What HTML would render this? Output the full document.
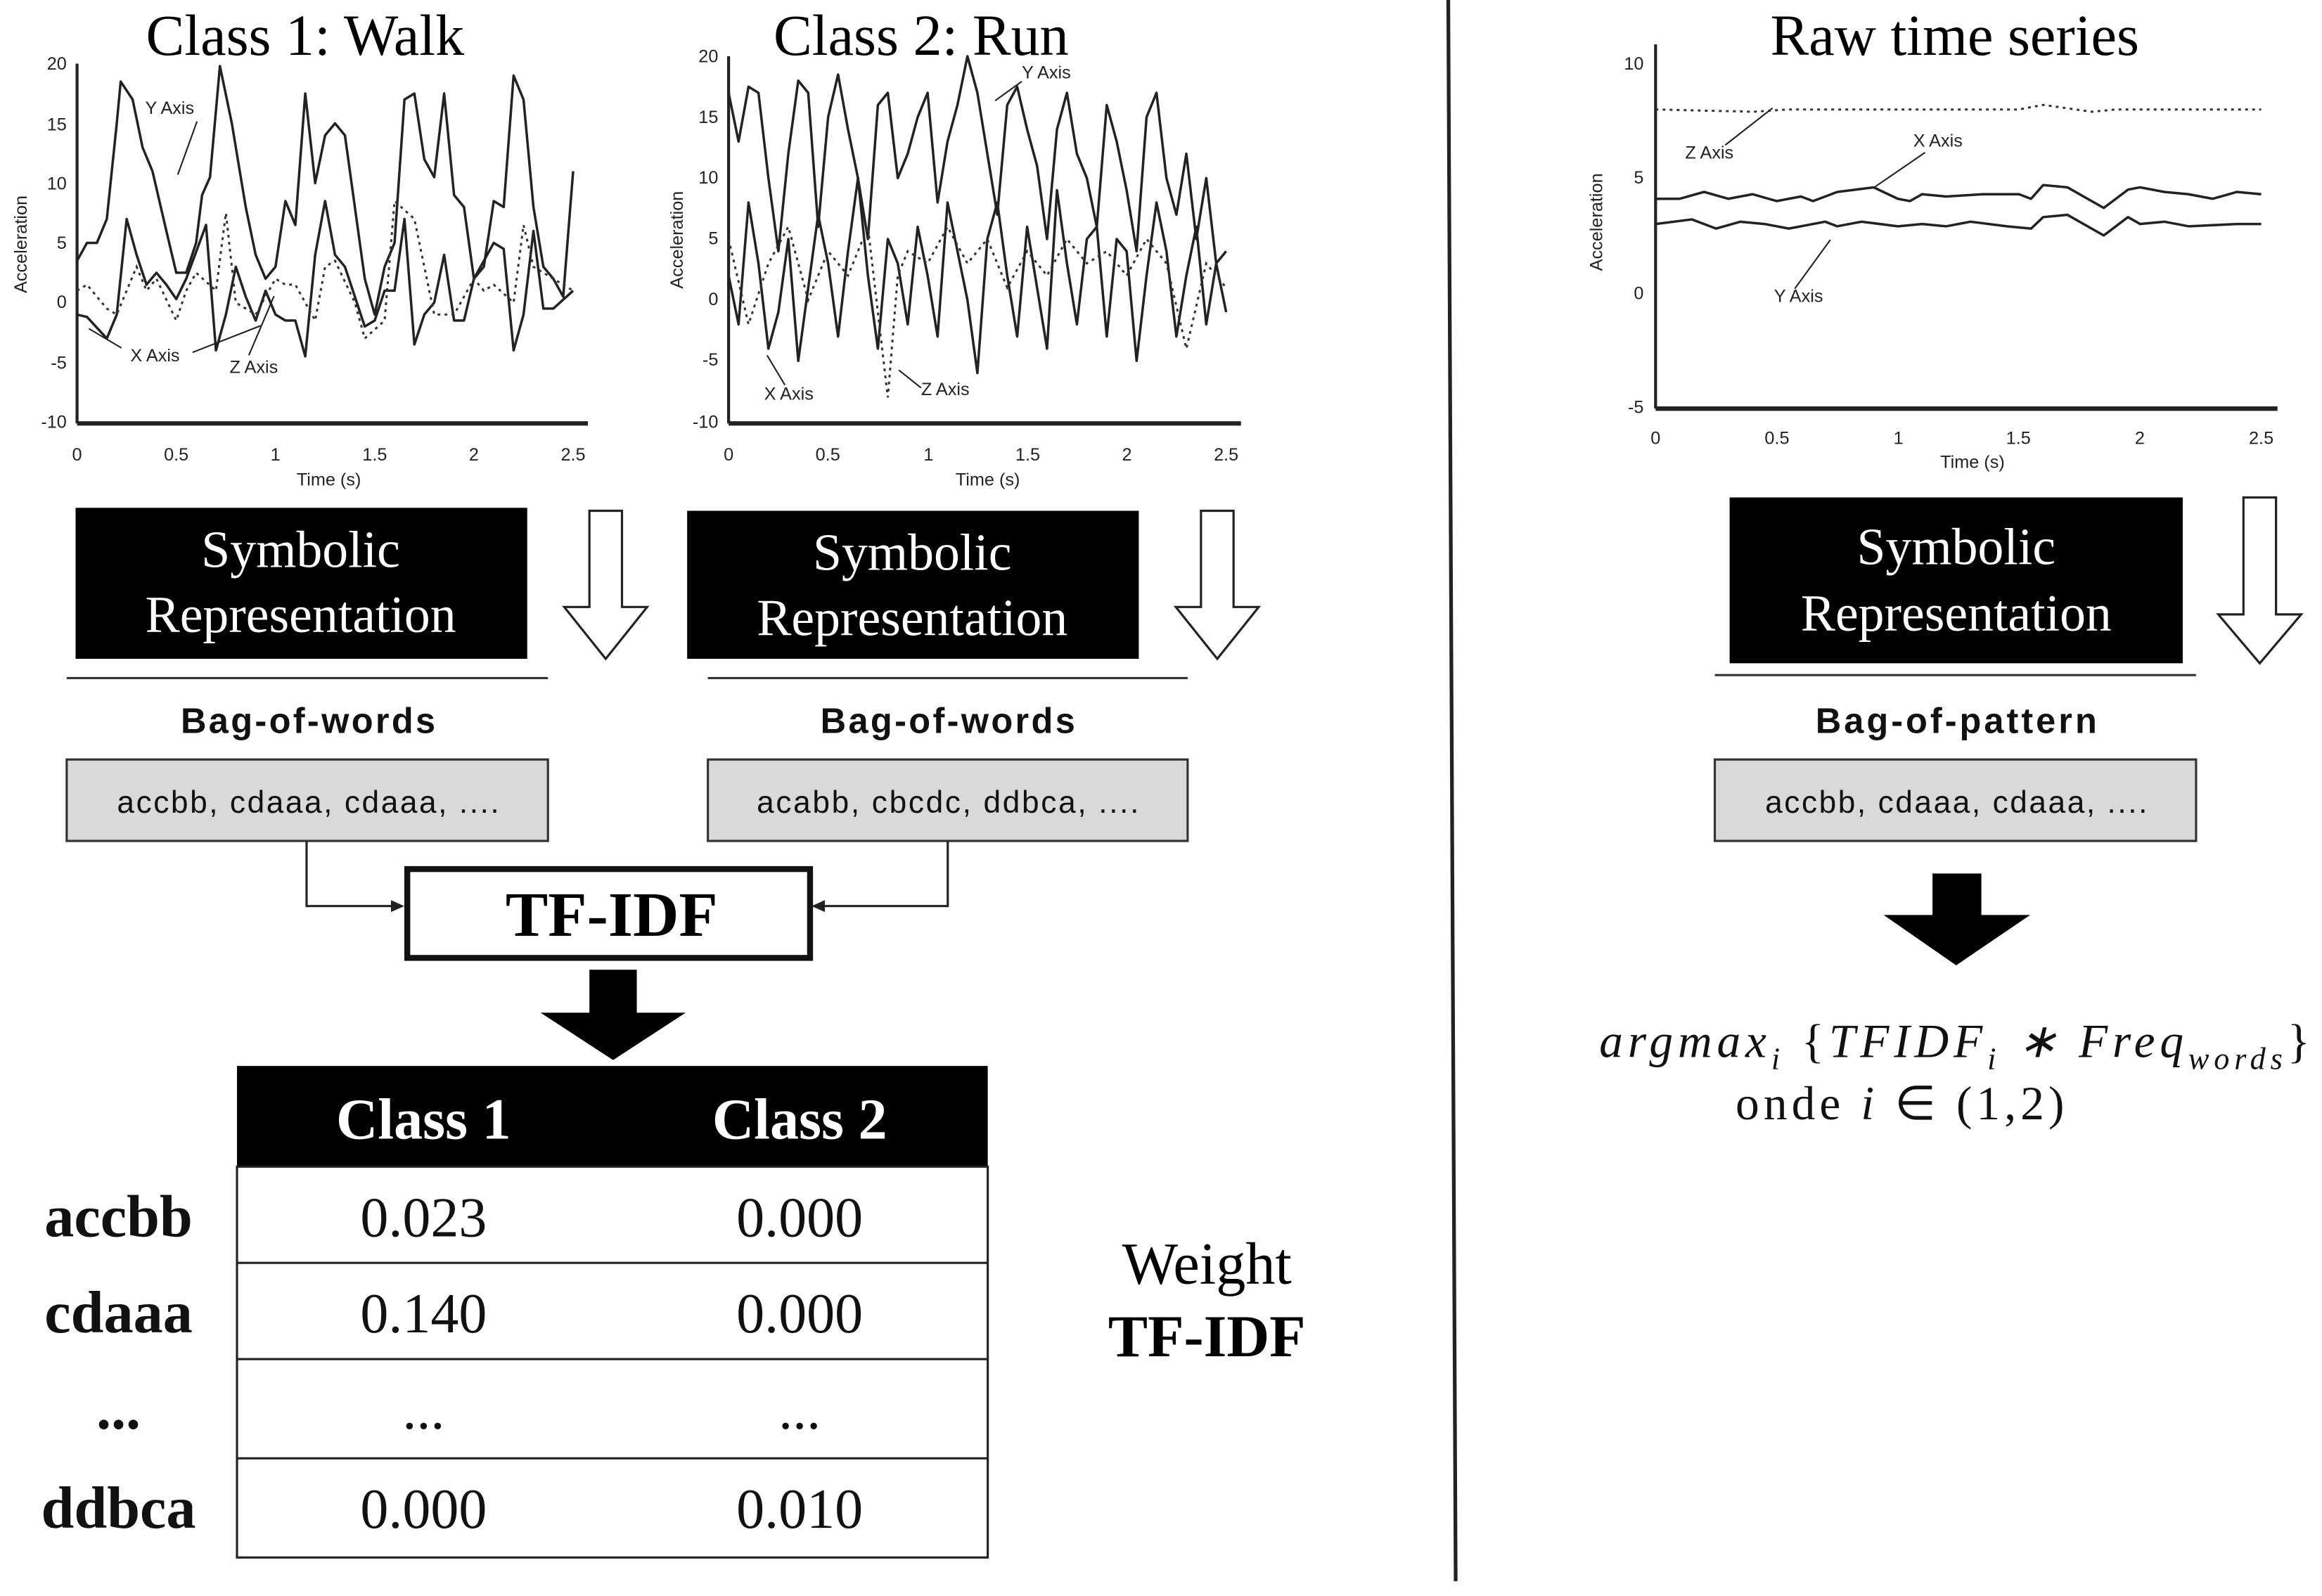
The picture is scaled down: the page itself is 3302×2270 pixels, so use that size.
<!DOCTYPE html>
<html><head><meta charset="utf-8"><style>
html,body{margin:0;padding:0;background:#fff;}
svg{display:block;}
.ser{font-family:"Liberation Serif",serif;}
.san{font-family:"Liberation Sans",sans-serif;}
.ln{fill:none;stroke:#222;stroke-width:3.5;vector-effect:non-scaling-stroke;stroke-linejoin:round;}
.dt{fill:none;stroke:#333;stroke-width:3;stroke-dasharray:4 6;vector-effect:non-scaling-stroke;}
.tk{font-family:"Liberation Sans",sans-serif;font-size:12px;fill:#222;}
</style></head><body>
<svg width="3302" height="2270" viewBox="0 0 1568 1078" xmlns="http://www.w3.org/2000/svg">
<rect width="1568" height="1078" fill="#fff"/>
<!-- titles -->
<text x="206" y="37" text-anchor="middle" class="ser" font-size="39">Class 1: Walk</text>
<text x="622" y="37" text-anchor="middle" class="ser" font-size="39">Class 2: Run</text>
<text x="1320" y="37" text-anchor="middle" class="ser" font-size="39">Raw time series</text>

<!-- chart 1 -->
<g>
<line x1="52" y1="43" x2="52" y2="286" stroke="#222" stroke-width="2"/>
<line x1="52" y1="286" x2="397" y2="286" stroke="#222" stroke-width="3"/>
<g class="tk" text-anchor="end">
<text x="45" y="47">20</text><text x="45" y="88">15</text><text x="45" y="128">10</text><text x="45" y="168">5</text><text x="45" y="208">0</text><text x="45" y="249">-5</text><text x="45" y="289">-10</text></g>
<g class="tk" text-anchor="middle">
<text x="52" y="311">0</text><text x="119" y="311">0.5</text><text x="186" y="311">1</text><text x="253" y="311">1.5</text><text x="320" y="311">2</text><text x="387" y="311">2.5</text>
<text x="222" y="328">Time (s)</text></g>
<text class="tk" transform="translate(18,165) rotate(-90)" text-anchor="middle">Acceleration</text>
<g transform="translate(52,204.4) scale(134,-8.07)">
<polyline class="ln" points="0,3.5 0.05,5 0.1,5 0.15,7 0.2,15 0.22,18.5 0.28,17 0.33,13 0.38,11 0.45,6 0.5,2.5 0.55,2.5 0.6,5 0.63,9 0.67,10.5 0.72,19.8 0.78,15 0.85,8 0.9,4 0.95,2 1.0,3 1.05,8.5 1.1,6.5 1.15,17.5 1.2,10 1.25,14 1.3,15 1.35,14 1.4,8 1.45,2 1.5,-1 1.55,3 1.6,5 1.65,17 1.7,17.5 1.75,12 1.8,10.5 1.85,17.5 1.9,9 1.95,8 2.0,2 2.05,3 2.1,8.5 2.15,8 2.2,19 2.25,17 2.3,8 2.35,3 2.4,2 2.45,0.5 2.5,11"/>
<polyline class="ln" points="0,-1 0.05,-1.2 0.15,-3 0.2,-1 0.25,7 0.3,4 0.35,1.5 0.4,2.5 0.45,1.5 0.5,0.3 0.55,2 0.65,6.5 0.7,-4 0.75,-1 0.8,3 0.85,0.5 0.9,-1.5 0.95,1 1.0,-1 1.05,-1.5 1.1,-1.5 1.15,-4.5 1.2,4 1.25,8.5 1.3,4 1.35,3 1.45,-2 1.5,-1.5 1.55,1 1.6,1 1.65,7 1.7,-3.5 1.75,-1 1.8,0 1.85,4 1.9,-1.5 1.95,-1.5 2.0,2 2.1,5 2.15,4.5 2.2,-4 2.25,-1 2.3,6 2.35,-0.5 2.4,-0.5 2.5,1"/>
<polyline class="dt" points="0,1 0.05,1.5 0.15,-0.5 0.2,-1 0.3,3 0.35,1 0.4,2 0.5,-1.5 0.55,1 0.6,2.5 0.7,1 0.75,7.5 0.8,0 0.9,-1 1.0,2 1.05,1.5 1.1,1.5 1.2,-1.5 1.25,3 1.3,3.5 1.4,0 1.45,-3 1.55,-1.5 1.6,8.5 1.7,7 1.8,-1 1.9,-1 2.0,2 2.05,1 2.1,1.5 2.2,0 2.25,6.5 2.3,3 2.4,2 2.5,1"/>
</g>
<text class="tk" x="98" y="77">Y Axis</text><line x1="133" y1="82" x2="120" y2="118" stroke="#222"/>
<text class="tk" x="88" y="244">X Axis</text><line x1="82" y1="235" x2="60" y2="222" stroke="#222"/><line x1="130" y1="238" x2="176" y2="220" stroke="#222"/>
<text class="tk" x="155" y="252">Z Axis</text><line x1="168" y1="240" x2="185" y2="200" stroke="#222"/>
</g>

<!-- chart 2 -->
<g>
<line x1="492" y1="38" x2="492" y2="286" stroke="#222" stroke-width="2"/>
<line x1="492" y1="286" x2="838" y2="286" stroke="#222" stroke-width="3"/>
<g class="tk" text-anchor="end">
<text x="485" y="42">20</text><text x="485" y="83">15</text><text x="485" y="124">10</text><text x="485" y="165">5</text><text x="485" y="206">0</text><text x="485" y="247">-5</text><text x="485" y="289">-10</text></g>
<g class="tk" text-anchor="middle">
<text x="492" y="311">0</text><text x="559" y="311">0.5</text><text x="627" y="311">1</text><text x="694" y="311">1.5</text><text x="761" y="311">2</text><text x="828" y="311">2.5</text>
<text x="667" y="328">Time (s)</text></g>
<text class="tk" transform="translate(461,162) rotate(-90)" text-anchor="middle">Acceleration</text>
<g transform="translate(492,202.6) scale(134.4,-8.23)">
<polyline class="ln" points="0,17 0.05,13 0.1,17.5 0.15,17 0.2,10 0.25,4 0.3,12 0.35,18 0.4,17 0.45,6 0.5,15 0.55,18.5 0.6,14 0.65,10 0.7,5 0.75,16 0.8,17 0.85,10 0.9,12 0.95,15 1.0,17 1.05,8 1.1,13 1.15,16 1.2,20 1.25,17 1.3,12 1.35,7 1.4,16 1.45,17.5 1.5,14 1.55,11 1.6,5 1.65,14 1.7,17 1.75,12 1.8,10 1.85,6 1.9,16 1.95,13 2.0,9 2.05,4 2.1,15 2.15,17 2.2,10 2.25,7 2.3,12 2.35,5 2.4,10 2.45,3 2.5,4"/>
<polyline class="ln" points="0,2 0.05,-2 0.1,8 0.15,3 0.2,-4 0.25,-1 0.3,5 0.35,-5 0.4,1 0.45,7 0.5,3 0.55,-3 0.6,4 0.65,10 0.7,2 0.75,-4 0.8,5 0.85,3 0.9,-2 0.95,6 1.0,2 1.05,-3 1.1,8 1.15,4 1.2,0 1.25,-6 1.3,5 1.35,8 1.4,2 1.45,-3 1.5,6 1.55,1 1.6,-4 1.65,9 1.7,3 1.75,-2 1.8,5 1.85,6 1.9,-3 1.95,5 2.0,4 2.05,-5 2.1,2 2.15,8 2.2,4 2.25,-3 2.3,2 2.35,6 2.4,-2 2.45,3 2.5,-1"/>
<polyline class="dt" points="0,5 0.1,-2 0.2,3 0.3,6 0.4,0 0.5,4 0.6,2 0.7,6 0.8,-8 0.85,2 0.9,4 1.0,3 1.1,6 1.2,3 1.3,5 1.4,1 1.5,4 1.6,2 1.7,5 1.8,3 1.9,4 2.0,2 2.1,5 2.2,3 2.3,-4 2.4,3 2.5,1"/>
</g>
<text class="tk" x="690" y="53">Y Axis</text><line x1="690" y1="55" x2="672" y2="68" stroke="#222"/>
<text class="tk" x="516" y="270">X Axis</text><line x1="530" y1="260" x2="518" y2="240" stroke="#222"/>
<text class="tk" x="622" y="267">Z Axis</text><line x1="622" y1="262" x2="607" y2="250" stroke="#222"/>
</g>

<!-- chart 3 -->
<g>
<line x1="1118" y1="30" x2="1118" y2="276" stroke="#222" stroke-width="2"/>
<line x1="1118" y1="276" x2="1538" y2="276" stroke="#222" stroke-width="3"/>
<g class="tk" text-anchor="end">
<text x="1110" y="47">10</text><text x="1110" y="124">5</text><text x="1110" y="202">0</text><text x="1110" y="279">-5</text></g>
<g class="tk" text-anchor="middle">
<text x="1118" y="300">0</text><text x="1200" y="300">0.5</text><text x="1282" y="300">1</text><text x="1363" y="300">1.5</text><text x="1445" y="300">2</text><text x="1527" y="300">2.5</text>
<text x="1332" y="316">Time (s)</text></g>
<text class="tk" transform="translate(1082,150) rotate(-90)" text-anchor="middle">Acceleration</text>
<g transform="translate(1118,197.7) scale(163.6,-15.47)">
<polyline class="dt" points="0,8 0.4,7.9 0.55,8 1.5,8 1.6,8.2 1.8,7.9 1.9,8 2.5,8"/>
<polyline class="ln" points="0,4.1 0.1,4.1 0.2,4.4 0.3,4.1 0.4,4.3 0.5,4 0.6,4.2 0.65,4 0.75,4.4 0.9,4.6 1.0,4.1 1.05,4 1.1,4.3 1.2,4.2 1.35,4.3 1.5,4.3 1.55,4.1 1.6,4.7 1.7,4.6 1.8,4 1.85,3.7 1.95,4.5 2.0,4.6 2.1,4.4 2.2,4.3 2.3,4.1 2.4,4.4 2.5,4.3"/>
<polyline class="ln" points="0,3 0.15,3.2 0.25,2.8 0.35,3.1 0.45,3 0.55,2.8 0.7,3.1 0.75,2.9 0.85,3.1 1.0,2.9 1.1,3 1.2,2.9 1.3,3.1 1.45,2.9 1.55,2.8 1.6,3.3 1.7,3.4 1.8,2.8 1.85,2.5 1.95,3.3 2.0,3 2.1,3.1 2.2,2.9 2.4,3 2.5,3"/>
</g>
<text class="tk" x="1138" y="107">Z Axis</text><line x1="1165" y1="98" x2="1197" y2="73" stroke="#222"/>
<text class="tk" x="1292" y="99">X Axis</text><line x1="1300" y1="103" x2="1265" y2="127" stroke="#222"/>
<text class="tk" x="1198" y="204">Y Axis</text><line x1="1212" y1="195" x2="1236" y2="162" stroke="#222"/>
</g>

<!-- divider -->
<line x1="978" y1="0" x2="983" y2="1068" stroke="#222" stroke-width="2.5"/>

<!-- symbolic boxes -->
<g class="ser" font-size="35" fill="#fff" text-anchor="middle">
<rect x="51" y="343" width="305" height="102" fill="#000"/>
<text x="203" y="383">Symbolic</text><text x="203" y="427">Representation</text>
<rect x="464" y="345" width="305" height="100" fill="#000"/>
<text x="616" y="385">Symbolic</text><text x="616" y="429">Representation</text>
<rect x="1168" y="336" width="306" height="112" fill="#000"/>
<text x="1321" y="381">Symbolic</text><text x="1321" y="426">Representation</text>
</g>
<!-- hollow arrows -->
<g fill="#fff" stroke="#222" stroke-width="1.5">
<polygon points="398,345 420,345 420,410 437,410 409,445 381,410 398,410"/>
<polygon points="811,345 833,345 833,410 850,410 822,445 794,410 811,410"/>
<polygon points="1515,336 1537,336 1537,415 1554,415 1526,448 1498,415 1515,415"/>
</g>

<!-- bags -->
<g stroke="#333" stroke-width="1.5">
<line x1="45" y1="458" x2="370" y2="458"/>
<line x1="478" y1="458" x2="802" y2="458"/>
<line x1="1158" y1="456" x2="1483" y2="456"/>
</g>
<g class="san" font-size="24" font-weight="bold" text-anchor="middle" fill="#111">
<text x="208" y="495" textLength="172">Bag-of-words</text><text x="640" y="495" textLength="172">Bag-of-words</text><text x="1321" y="495" textLength="190">Bag-of-pattern</text>
</g>
<g fill="#d9d9d9" stroke="#333" stroke-width="1.5">
<rect x="45" y="513" width="325" height="55"/>
<rect x="478" y="513" width="324" height="55"/>
<rect x="1158" y="513" width="325" height="55"/>
</g>
<g class="san" font-size="21" text-anchor="middle" fill="#111">
<text x="208" y="549" textLength="258">accbb, cdaaa, cdaaa, ....</text>
<text x="640" y="549" textLength="258">acabb, cbcdc, ddbca, ....</text>
<text x="1321" y="549" textLength="258">accbb, cdaaa, cdaaa, ....</text>
</g>

<!-- connectors -->
<polyline points="207,568 207,612 266,612" fill="none" stroke="#222" stroke-width="1.5"/>
<polygon points="273,612 264,608 264,616" fill="#222"/>
<polyline points="640,568 640,612 555,612" fill="none" stroke="#222" stroke-width="1.5"/>
<polygon points="548,612 557,608 557,616" fill="#222"/>
<rect x="275" y="587" width="272" height="60" fill="#fff" stroke="#111" stroke-width="4"/>
<text x="413" y="632" text-anchor="middle" class="ser" font-size="43" font-weight="bold">TF-IDF</text>

<!-- black arrows -->
<polygon points="398,655 430,655 430,684 463,684 414,716 365,684 398,684" fill="#000"/>
<polygon points="1305,590 1338,590 1338,618 1371,618 1321,652 1272,618 1305,618" fill="#000"/>

<!-- table -->
<rect x="160" y="720" width="507" height="68" fill="#000"/>
<g class="ser" font-size="39" font-weight="bold" fill="#fff" text-anchor="middle">
<text x="286" y="769">Class 1</text><text x="540" y="769">Class 2</text></g>
<g stroke="#222" stroke-width="1.5" fill="none">
<rect x="160" y="788" width="507" height="264"/>
<line x1="160" y1="853" x2="667" y2="853"/><line x1="160" y1="918" x2="667" y2="918"/><line x1="160" y1="985" x2="667" y2="985"/>
</g>
<g class="ser" font-size="38" text-anchor="middle" fill="#111">
<text x="286" y="835">0.023</text><text x="540" y="835">0.000</text>
<text x="286" y="900">0.140</text><text x="540" y="900">0.000</text>
<text x="286" y="965">...</text><text x="540" y="965">...</text>
<text x="286" y="1032">0.000</text><text x="540" y="1032">0.010</text>
</g>
<g class="ser" font-size="40" font-weight="bold" text-anchor="middle" fill="#111">
<text x="80" y="835">accbb</text><text x="80" y="900">cdaaa</text><text x="80" y="965">...</text><text x="80" y="1032">ddbca</text>
</g>
<text x="815" y="867" text-anchor="middle" class="ser" font-size="40">Weight</text>
<text x="815" y="916" text-anchor="middle" class="ser" font-size="40" font-weight="bold">TF-IDF</text>

<!-- formula -->
<text x="1080" y="714" class="ser" font-size="32" font-style="italic" fill="#111" textLength="480">argmax<tspan font-size="21" dy="8">i</tspan><tspan dy="-8" font-style="normal"> {</tspan>TFIDF<tspan font-size="21" dy="8">i</tspan><tspan dy="-8"> ∗ Freq</tspan><tspan font-size="21" dy="8">words</tspan><tspan dy="-8" font-style="normal">}</tspan></text>
<text x="1172" y="756" class="ser" font-size="32" fill="#111" textLength="222">onde <tspan font-style="italic">i</tspan>  ∈ (1,2)</text>
</svg>
</body></html>
